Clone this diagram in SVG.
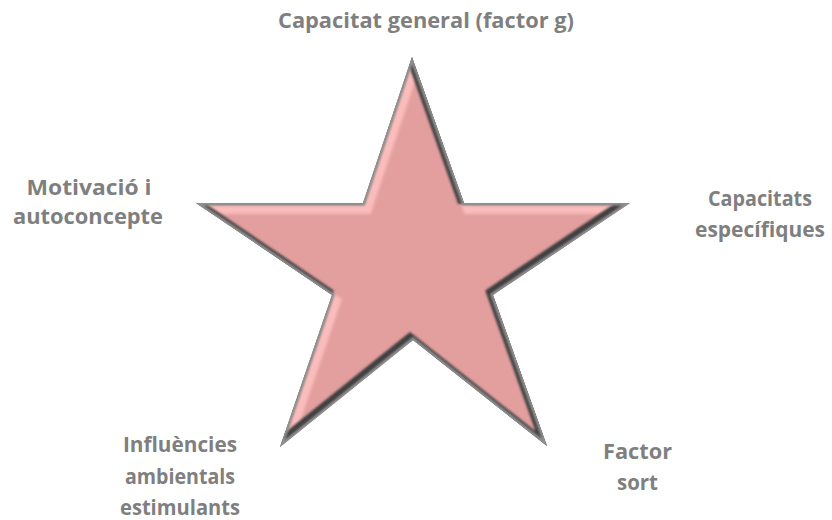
<svg xmlns="http://www.w3.org/2000/svg" xmlns:xlink="http://www.w3.org/1999/xlink" width="832" height="520" viewBox="0 0 832 520">
  <style>
    .lbl { font-family: "Open Sans", "Liberation Sans", Arial, sans-serif; font-weight: bold; font-size: 20.5px; fill: #7f7f7f; text-anchor: middle; }
  </style>
  <defs>
    <path id="star" d="M412,57 L464,203 L630,203 L493,295 L547,446 L413,340 L280,447 L332,295 L196,203 L363,203 Z"/>
    <clipPath id="starClip"><use xlink:href="#star"/></clipPath>
    <filter id="b1" x="-10%" y="-10%" width="120%" height="120%"><feGaussianBlur stdDeviation="1.8"/></filter>
    <filter id="b2" x="-10%" y="-10%" width="120%" height="120%"><feGaussianBlur stdDeviation="1"/></filter>
  </defs>
  <rect width="832" height="520" fill="#ffffff"/>
  <g id="star-shape">
    <use xlink:href="#star" fill="#e39e9e"/>
    <g clip-path="url(#starClip)">
      <use xlink:href="#star" fill="none" stroke="#fbbcbc" stroke-width="10" transform="translate(4,6)" filter="url(#b1)"/>
      <use xlink:href="#star" fill="none" stroke="#3f3f3f" stroke-width="8" transform="translate(-3,-3)" filter="url(#b2)"/>
      <use xlink:href="#star" fill="none" stroke="#8f8f8f" stroke-width="5" filter="url(#b2)"/>
    </g>
  </g>
  <g id="label-top">
    <text class="lbl" x="426" y="28" textLength="296" lengthAdjust="spacingAndGlyphs">Capacitat general (factor g)</text>
  </g>
  <g id="label-left">
    <text class="lbl" x="89" y="195" textLength="125" lengthAdjust="spacingAndGlyphs">Motivació i</text>
    <text class="lbl" x="88" y="224" textLength="150" lengthAdjust="spacingAndGlyphs">autoconcepte</text>
  </g>
  <g id="label-right">
    <text class="lbl" x="760" y="206" textLength="104" lengthAdjust="spacingAndGlyphs">Capacitats</text>
    <text class="lbl" x="760" y="237" textLength="130" lengthAdjust="spacingAndGlyphs">específiques</text>
  </g>
  <g id="label-bottom-left">
    <text class="lbl" x="180" y="452" textLength="114" lengthAdjust="spacingAndGlyphs">Influències</text>
    <text class="lbl" x="180" y="484" textLength="110" lengthAdjust="spacingAndGlyphs">ambientals</text>
    <text class="lbl" x="180" y="515" textLength="120" lengthAdjust="spacingAndGlyphs">estimulants</text>
  </g>
  <g id="label-bottom-right">
    <text class="lbl" x="637.5" y="459" textLength="69" lengthAdjust="spacingAndGlyphs">Factor</text>
    <text class="lbl" x="637.5" y="490" textLength="41" lengthAdjust="spacingAndGlyphs">sort</text>
  </g>
  <g id="connectors"/>
</svg>
